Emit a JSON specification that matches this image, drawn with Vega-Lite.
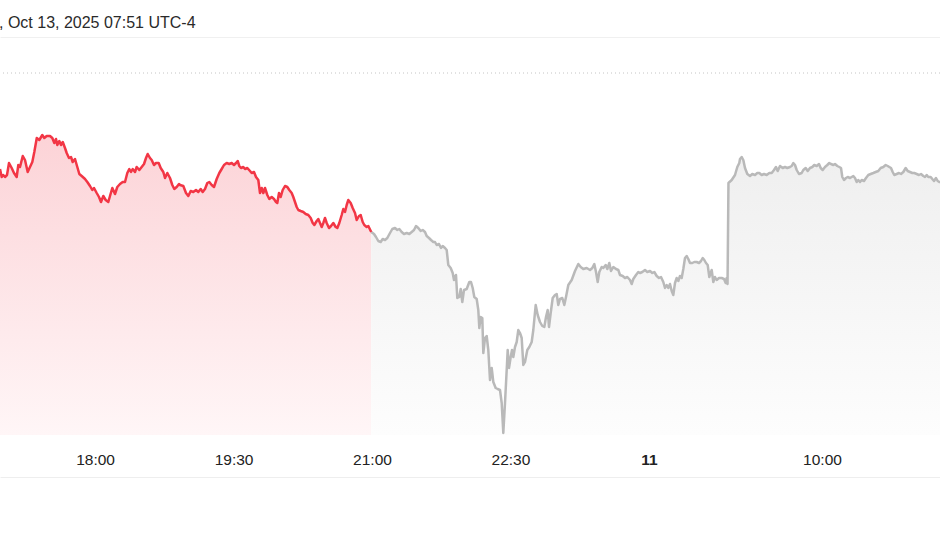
{
"$schema": "https://vega.github.io/schema/vega-lite/v6.json",
"width": 940, "height": 390,
"autosize": {"type": "none"},
"padding": {"top": 45, "left": 0, "right": 0, "bottom": 125},
"background": "white",
"config": {"view": {"stroke": null}},
"title": {"text": ", Oct 13, 2025 07:51 UTC-4", "anchor": "start", "frame": "group", "dx": -1, "offset": -7, "baseline": "alphabetic", "fontSize": 16, "font": "Liberation Sans", "fontWeight": "normal", "color": "#2a2a2a"},
"datasets": {
"reg": [
{"m":-1.8,"p":243.30},{"m":-0.7,"p":242.90},{"m":0.3,"p":243.00},{"m":1.45,"p":242.90},{"m":2.75,"p":243.00},{"m":4.05,"p":243.60},{"m":5.8,"p":243.35},{"m":7.3,"p":243.10},{"m":9.05,"p":242.90},{"m":10.1,"p":243.50},{"m":11.2,"p":243.40},{"m":13.0,"p":243.95},{"m":14.45,"p":243.75},{"m":16.2,"p":243.15},{"m":17.7,"p":243.40},{"m":19.2,"p":243.65},{"m":20.5,"p":244.15},{"m":22.1,"p":244.85},{"m":23.75,"p":244.75},{"m":25.7,"p":245.00},{"m":27.0,"p":244.85},{"m":28.55,"p":244.95},{"m":30.7,"p":244.95},{"m":32.2,"p":244.85},{"m":33.5,"p":244.60},{"m":34.6,"p":244.80},{"m":35.45,"p":244.50},{"m":36.75,"p":244.70},{"m":37.85,"p":244.50},{"m":39.0,"p":244.65},{"m":40.45,"p":244.35},{"m":41.55,"p":244.10},{"m":43.05,"p":243.85},{"m":44.35,"p":243.90},{"m":45.45,"p":243.65},{"m":46.95,"p":243.80},{"m":48.45,"p":243.40},{"m":49.75,"p":243.05},{"m":51.3,"p":242.95},{"m":53.45,"p":242.80},{"m":54.95,"p":242.65},{"m":56.7,"p":242.45},{"m":58.2,"p":242.25},{"m":59.3,"p":242.35},{"m":61.05,"p":242.10},{"m":62.55,"p":241.90},{"m":63.85,"p":241.65},{"m":65.35,"p":241.95},{"m":66.9,"p":241.75},{"m":68.6,"p":241.65},{"m":69.7,"p":241.95},{"m":71.2,"p":242.35},{"m":72.95,"p":242.05},{"m":74.45,"p":242.40},{"m":76.2,"p":242.55},{"m":77.95,"p":242.65},{"m":79.45,"p":242.65},{"m":80.95,"p":243.10},{"m":82.25,"p":243.30},{"m":83.35,"p":243.15},{"m":84.45,"p":243.30},{"m":85.95,"p":243.15},{"m":87.05,"p":243.40},{"m":88.75,"p":243.25},{"m":90.3,"p":243.40},{"m":91.8,"p":243.55},{"m":93.1,"p":243.85},{"m":94.2,"p":244.05},{"m":95.7,"p":243.85},{"m":96.8,"p":243.75},{"m":98.3,"p":243.50},{"m":99.6,"p":243.60},{"m":101.35,"p":243.60},{"m":102.65,"p":243.35},{"m":104.35,"p":243.15},{"m":105.45,"p":242.85},{"m":106.95,"p":243.10},{"m":108.7,"p":242.85},{"m":110.2,"p":242.50},{"m":111.5,"p":242.30},{"m":113.05,"p":242.40},{"m":114.55,"p":242.55},{"m":115.2,"p":242.50},{"m":117.35,"p":242.45},{"m":119.1,"p":242.10},{"m":120.6,"p":241.95},{"m":122.15,"p":242.20},{"m":123.85,"p":242.15},{"m":125.6,"p":242.25},{"m":127.1,"p":242.15},{"m":128.65,"p":242.30},{"m":129.95,"p":242.15},{"m":131.45,"p":242.30},{"m":132.95,"p":242.60},{"m":134.25,"p":242.65},{"m":135.8,"p":242.50},{"m":137.3,"p":242.40},{"m":139.05,"p":242.80},{"m":140.75,"p":243.10},{"m":142.3,"p":243.30},{"m":143.8,"p":243.50},{"m":145.55,"p":243.60},{"m":147.25,"p":243.55},{"m":148.8,"p":243.60},{"m":150.3,"p":243.50},{"m":151.6,"p":243.60},{"m":152.7,"p":243.70},{"m":153.75,"p":243.45},{"m":154.85,"p":243.35},{"m":156.35,"p":243.40},{"m":157.45,"p":243.30},{"m":158.95,"p":243.35},{"m":160.7,"p":243.20},{"m":161.8,"p":243.10},{"m":163.3,"p":243.15},{"m":164.6,"p":242.90},{"m":166.1,"p":242.75},{"m":167.2,"p":242.10},{"m":168.3,"p":242.35},{"m":169.35,"p":242.10},{"m":170.45,"p":242.35},{"m":171.95,"p":242.00},{"m":173.25,"p":241.80},{"m":174.8,"p":241.90},{"m":176.3,"p":241.80},{"m":177.6,"p":241.65},{"m":178.45,"p":241.60},{"m":179.55,"p":242.10},{"m":180.65,"p":241.90},{"m":181.95,"p":242.25},{"m":183.45,"p":242.45},{"m":184.95,"p":242.40},{"m":186.25,"p":242.25},{"m":187.8,"p":242.10},{"m":188.85,"p":241.90},{"m":189.95,"p":241.65},{"m":191.05,"p":241.40},{"m":192.1,"p":241.25},{"m":193.65,"p":241.20},{"m":195.35,"p":241.15},{"m":196.9,"p":241.05},{"m":198.6,"p":241.00},{"m":200.15,"p":240.85},{"m":201.45,"p":240.60},{"m":202.5,"p":240.50},{"m":204.05,"p":240.70},{"m":205.1,"p":240.80},{"m":206.2,"p":240.60},{"m":207.3,"p":240.40},{"m":208.35,"p":240.60},{"m":209.45,"p":240.85},{"m":210.55,"p":240.60},{"m":212.05,"p":240.35},{"m":213.35,"p":240.45},{"m":214.85,"p":240.60},{"m":216.4,"p":240.40},{"m":217.45,"p":240.35},{"m":218.75,"p":240.60},{"m":220.3,"p":241.00},{"m":221.35,"p":241.30},{"m":222.45,"p":241.15},{"m":223.55,"p":241.50},{"m":224.6,"p":241.75},{"m":226.15,"p":241.60},{"m":227.45,"p":241.35},{"m":228.95,"p":241.10},{"m":230.05,"p":240.75},{"m":231.55,"p":240.95},{"m":232.65,"p":241.00},{"m":233.95,"p":240.65},{"m":235.0,"p":240.50},{"m":236.55,"p":240.40},{"m":237.6,"p":240.45},{"m":239.5,"p":240.15}
],
"ext": [
{"m":239.5,"p":240.15},{"m":241.3,"p":240.05},{"m":242.6,"p":239.90},{"m":244.1,"p":239.70},{"m":245.65,"p":239.65},{"m":246.95,"p":239.80},{"m":248.45,"p":239.75},{"m":249.95,"p":239.85},{"m":251.7,"p":240.10},{"m":253.2,"p":240.30},{"m":254.95,"p":240.35},{"m":256.45,"p":240.25},{"m":257.75,"p":240.30},{"m":259.3,"p":240.15},{"m":260.8,"p":240.05},{"m":262.55,"p":240.10},{"m":264.25,"p":240.05},{"m":265.8,"p":240.15},{"m":267.3,"p":240.25},{"m":268.6,"p":240.45},{"m":270.1,"p":240.35},{"m":271.65,"p":240.20},{"m":272.95,"p":240.25},{"m":274.45,"p":240.15},{"m":275.55,"p":239.95},{"m":277.05,"p":239.85},{"m":278.35,"p":239.75},{"m":279.85,"p":239.65},{"m":280.95,"p":239.65},{"m":282.05,"p":239.50},{"m":283.55,"p":239.55},{"m":284.85,"p":239.35},{"m":285.95,"p":239.45},{"m":287.45,"p":239.35},{"m":288.55,"p":239.25},{"m":289.6,"p":238.50},{"m":291.15,"p":238.35},{"m":292.45,"p":238.10},{"m":293.3,"p":237.75},{"m":294.6,"p":238.00},{"m":295.45,"p":236.85},{"m":296.75,"p":236.90},{"m":297.65,"p":237.30},{"m":298.7,"p":236.65},{"m":299.8,"p":237.25},{"m":301.55,"p":237.30},{"m":303.25,"p":237.65},{"m":304.35,"p":237.65},{"m":305.45,"p":237.35},{"m":306.5,"p":236.90},{"m":308.05,"p":236.80},{"m":309.1,"p":236.25},{"m":309.75,"p":235.35},{"m":310.65,"p":235.90},{"m":311.7,"p":235.85},{"m":312.35,"p":234.10},{"m":313.45,"p":234.85},{"m":314.55,"p":234.95},{"m":315.6,"p":234.25},{"m":316.7,"p":232.75},{"m":317.8,"p":233.35},{"m":318.85,"p":232.65},{"m":320.4,"p":232.35},{"m":321.7,"p":232.30},{"m":323.2,"p":232.25},{"m":324.3,"p":231.60},{"m":325.35,"p":230.10},{"m":326.45,"p":231.60},{"m":327.55,"p":233.25},{"m":328.2,"p":234.25},{"m":329.05,"p":233.35},{"m":330.15,"p":233.90},{"m":331.0,"p":234.25},{"m":331.85,"p":233.90},{"m":332.95,"p":234.40},{"m":334.05,"p":234.65},{"m":335.1,"p":235.25},{"m":336.2,"p":235.10},{"m":337.3,"p":234.85},{"m":338.35,"p":233.50},{"m":339.45,"p":233.65},{"m":340.95,"p":234.25},{"m":342.25,"p":234.40},{"m":343.8,"p":234.65},{"m":344.85,"p":235.25},{"m":346.4,"p":236.50},{"m":347.7,"p":236.00},{"m":349.2,"p":235.65},{"m":350.7,"p":235.45},{"m":352.0,"p":235.40},{"m":353.1,"p":235.90},{"m":354.2,"p":236.25},{"m":355.05,"p":235.40},{"m":356.15,"p":236.10},{"m":357.45,"p":236.85},{"m":358.95,"p":237.00},{"m":360.05,"p":237.05},{"m":361.1,"p":236.50},{"m":362.2,"p":236.80},{"m":363.7,"p":236.85},{"m":365.0,"p":236.50},{"m":366.1,"p":236.90},{"m":367.6,"p":237.50},{"m":369.8,"p":237.75},{"m":371.95,"p":238.20},{"m":374.1,"p":238.55},{"m":375.65,"p":238.40},{"m":377.35,"p":238.30},{"m":379.55,"p":238.35},{"m":381.7,"p":238.25},{"m":383.2,"p":238.35},{"m":384.5,"p":238.55},{"m":385.6,"p":238.15},{"m":386.7,"p":237.65},{"m":387.75,"p":238.15},{"m":389.3,"p":238.40},{"m":390.35,"p":238.35},{"m":391.9,"p":238.50},{"m":392.95,"p":238.30},{"m":394.25,"p":238.60},{"m":395.35,"p":238.20},{"m":396.85,"p":238.40},{"m":398.6,"p":238.30},{"m":400.1,"p":238.25},{"m":401.2,"p":238.00},{"m":402.95,"p":237.95},{"m":404.45,"p":237.85},{"m":405.95,"p":237.90},{"m":407.7,"p":237.75},{"m":408.8,"p":237.55},{"m":409.85,"p":237.80},{"m":411.6,"p":238.00},{"m":413.1,"p":238.15},{"m":414.2,"p":238.10},{"m":415.7,"p":238.15},{"m":417.45,"p":238.25},{"m":418.95,"p":238.15},{"m":420.7,"p":238.20},{"m":422.2,"p":238.10},{"m":423.5,"p":238.15},{"m":425.05,"p":237.95},{"m":426.55,"p":237.85},{"m":427.85,"p":237.90},{"m":429.35,"p":237.65},{"m":430.45,"p":237.35},{"m":431.55,"p":237.50},{"m":432.6,"p":237.35},{"m":433.7,"p":237.55},{"m":434.8,"p":237.20},{"m":435.85,"p":237.00},{"m":436.95,"p":237.60},{"m":438.05,"p":237.85},{"m":439.1,"p":237.70},{"m":440.2,"p":237.95},{"m":441.3,"p":237.85},{"m":442.35,"p":238.30},{"m":443.45,"p":238.85},{"m":444.55,"p":238.95},{"m":445.6,"p":238.80},{"m":446.7,"p":238.60},{"m":448.2,"p":238.60},{"m":449.5,"p":238.65},{"m":451.05,"p":238.65},{"m":452.55,"p":238.60},{"m":453.85,"p":238.70},{"m":454.95,"p":238.85},{"m":456.0,"p":238.75},{"m":457.1,"p":238.60},{"m":458.2,"p":238.50},{"m":459.25,"p":237.90},{"m":460.15,"p":238.10},{"m":460.8,"p":238.25},{"m":461.85,"p":237.65},{"m":462.95,"p":237.90},{"m":464.05,"p":237.75},{"m":465.55,"p":237.85},{"m":467.3,"p":237.85},{"m":468.8,"p":237.80},{"m":469.9,"p":237.60},{"m":470.55,"p":237.85},{"m":471.1,"p":237.55},{"m":471.7,"p":242.60},{"m":473.8,"p":242.75},{"m":475.95,"p":243.00},{"m":477.45,"p":243.40},{"m":478.75,"p":243.60},{"m":479.2,"p":243.80},{"m":480.3,"p":243.90},{"m":481.35,"p":243.75},{"m":482.45,"p":243.35},{"m":483.95,"p":243.05},{"m":485.7,"p":242.95},{"m":487.2,"p":243.05},{"m":488.95,"p":243.00},{"m":490.45,"p":243.10},{"m":491.75,"p":243.10},{"m":493.3,"p":243.00},{"m":494.8,"p":243.05},{"m":496.55,"p":243.00},{"m":498.25,"p":243.10},{"m":499.8,"p":243.10},{"m":501.3,"p":243.25},{"m":502.6,"p":243.40},{"m":503.7,"p":243.20},{"m":505.2,"p":243.45},{"m":506.95,"p":243.35},{"m":508.45,"p":243.40},{"m":509.95,"p":243.35},{"m":511.7,"p":243.40},{"m":512.8,"p":243.45},{"m":513.85,"p":243.60},{"m":514.95,"p":243.50},{"m":516.05,"p":243.25},{"m":517.55,"p":243.05},{"m":519.3,"p":243.10},{"m":520.35,"p":243.25},{"m":521.9,"p":243.35},{"m":523.2,"p":243.20},{"m":524.7,"p":243.35},{"m":526.2,"p":243.40},{"m":527.5,"p":243.50},{"m":529.05,"p":243.45},{"m":530.55,"p":243.55},{"m":531.65,"p":243.35},{"m":532.95,"p":243.25},{"m":534.45,"p":243.40},{"m":535.95,"p":243.50},{"m":537.25,"p":243.60},{"m":538.35,"p":243.55},{"m":539.85,"p":243.50},{"m":540.95,"p":243.55},{"m":542.45,"p":243.45},{"m":543.75,"p":243.40},{"m":544.85,"p":243.35},{"m":545.7,"p":242.90},{"m":546.8,"p":242.75},{"m":548.1,"p":242.85},{"m":549.2,"p":242.90},{"m":550.7,"p":242.85},{"m":551.8,"p":242.90},{"m":552.85,"p":242.95},{"m":553.95,"p":242.85},{"m":555.05,"p":242.65},{"m":556.1,"p":242.75},{"m":557.2,"p":242.65},{"m":558.3,"p":242.75},{"m":559.8,"p":242.70},{"m":561.1,"p":242.85},{"m":562.6,"p":243.00},{"m":564.15,"p":243.05},{"m":565.85,"p":243.10},{"m":567.4,"p":243.15},{"m":569.1,"p":243.20},{"m":570.65,"p":243.35},{"m":572.35,"p":243.40},{"m":573.9,"p":243.50},{"m":575.2,"p":243.45},{"m":576.25,"p":243.40},{"m":577.35,"p":243.35},{"m":578.45,"p":243.15},{"m":579.5,"p":243.00},{"m":581.05,"p":243.05},{"m":582.55,"p":243.10},{"m":583.85,"p":243.05},{"m":585.35,"p":243.15},{"m":586.9,"p":243.35},{"m":588.2,"p":243.20},{"m":589.7,"p":243.15},{"m":591.2,"p":243.10},{"m":592.5,"p":243.10},{"m":594.05,"p":243.05},{"m":595.55,"p":243.00},{"m":596.85,"p":243.05},{"m":598.35,"p":242.95},{"m":599.45,"p":242.90},{"m":600.55,"p":243.00},{"m":601.6,"p":242.90},{"m":603.15,"p":242.90},{"m":604.2,"p":242.80},{"m":605.3,"p":242.70},{"m":606.6,"p":242.85},{"m":607.7,"p":242.70},{"m":608.75,"p":242.65},{"m":609.2,"p":242.65}
]
},
"resolve": {"axis": {"x": "independent"}},
"layer": [
{
"data": {"name": "reg"},
"mark": {"type": "area", "color": {"gradient": "linear", "x1": 1, "y1": 1, "x2": 1, "y2": 0, "stops": [{"offset": 0, "color": "#fff6f7"}, {"offset": 1, "color": "#fcd3d7"}]}},
"encoding": {
"x": {"field": "m", "type": "quantitative", "scale": {"domain": [-1.8, 609.2], "nice": false, "zero": false},
"axis": {"values": [60, 150, 240, 330, 420, 532.5], "labelExpr": "datum.value == 60 ? '18:00' : datum.value == 150 ? '19:30' : datum.value == 240 ? '21:00' : datum.value == 330 ? '22:30' : datum.value == 420 ? '11' : '10:00'", "orient": "bottom", "offset": 42, "domain": true, "domainColor": "#eeeeee", "domainWidth": 1, "ticks": false, "tickSize": 0, "grid": false, "title": null, "labelPadding": -18, "labelBaseline": "middle", "labelFont": "Liberation Sans", "labelFontSize": 15.5, "labelColor": "#222222", "labelOverlap": false, "labelFlush": false, "labelFontWeight": {"condition": {"test": "datum.value == 420", "value": "bold"}, "value": "normal"}, "zindex": 1}},
"y": {"field": "p", "type": "quantitative", "scale": {"domain": [230, 249.5], "nice": false, "zero": false}, "axis": null},
"y2": {"datum": 230}
}
},
{
"data": {"name": "ext"},
"mark": {"type": "area", "color": {"gradient": "linear", "x1": 1, "y1": 1, "x2": 1, "y2": 0, "stops": [{"offset": 0, "color": "#fdfdfd"}, {"offset": 1, "color": "#efefef"}]}},
"encoding": {
"x": {"field": "m", "type": "quantitative", "axis": {"orient": "top", "offset": 8, "domain": true, "domainColor": "#f0f0f0", "domainWidth": 1, "ticks": false, "labels": false, "grid": false, "title": null}},
"y": {"field": "p", "type": "quantitative", "axis": null},
"y2": {"datum": 230}
}
},
{
"data": {"name": "ext"},
"mark": {"type": "line", "color": "#b9b9b9", "strokeWidth": 2.5, "strokeJoin": "round"},
"encoding": {
"x": {"field": "m", "type": "quantitative", "axis": null},
"y": {"field": "p", "type": "quantitative", "axis": null}
}
},
{
"data": {"name": "reg"},
"mark": {"type": "line", "color": "#f23645", "strokeWidth": 2.5, "strokeJoin": "round"},
"encoding": {
"x": {"field": "m", "type": "quantitative", "axis": null},
"y": {"field": "p", "type": "quantitative", "axis": null}
}
},
{
"data": {"values": [{}]},
"mark": {"type": "rule", "color": "#c4c4c4", "strokeWidth": 1, "strokeDash": [1, 3]},
"encoding": {"y": {"datum": 248.1}}
}
]
}
